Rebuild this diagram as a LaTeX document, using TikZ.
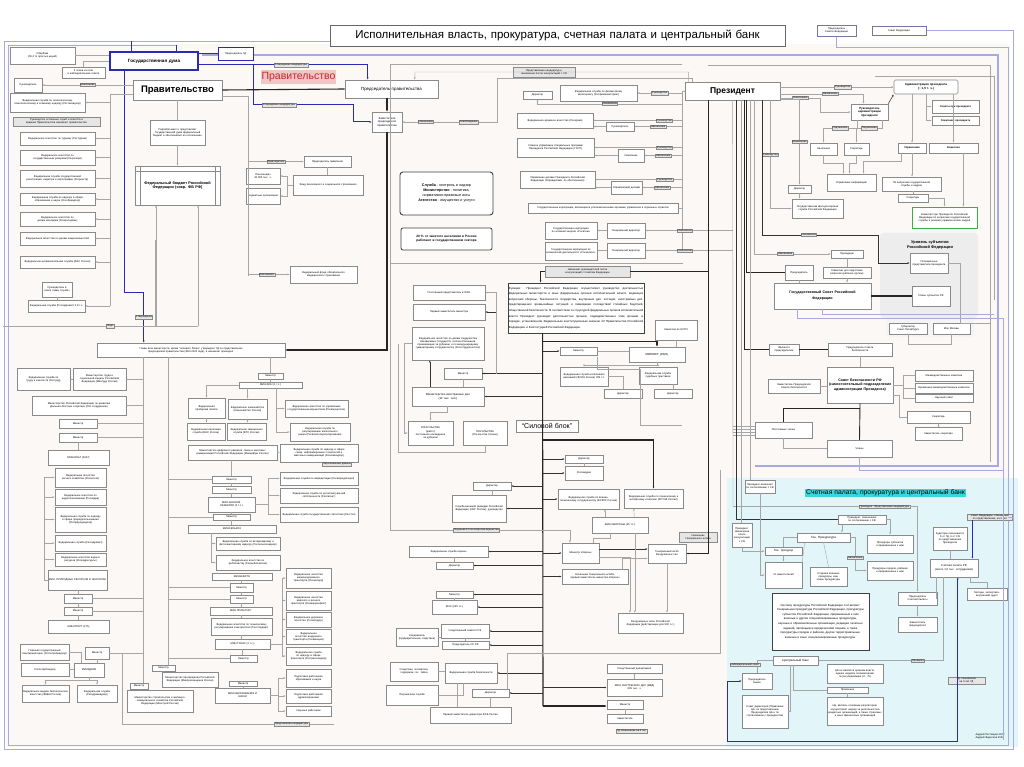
\documentclass[tikz,border=0pt]{standalone}
\usepackage{fontspec}
\setmainfont{Liberation Sans}
\usetikzlibrary{arrows.meta,calc}
\definecolor{boxgray}{HTML}{8A8A8A}
\definecolor{linegray}{HTML}{A6A6A6}
\definecolor{labfill}{HTML}{E6E6E6}
\definecolor{dumablue}{HTML}{2A2AB4}
\definecolor{lavender}{HTML}{A9A9E2}
\definecolor{bgfill}{HTML}{FBF8F5}
\definecolor{cyanfill}{HTML}{E2F6FA}
\definecolor{cyanhl}{HTML}{3AD6DA}
\definecolor{pinkfill}{HTML}{F3C6C6}
\definecolor{redtext}{HTML}{C0282C}
\definecolor{greenb}{HTML}{3CAF3C}
\definecolor{regfill}{HTML}{EDEDED}
\newcommand\tf{\fontsize{2.6}{3.1}\selectfont}
\newcommand\bx[7][]{%
  \pgfmathsetmacro\bxw{#5-#3}%
  \pgfmathsetmacro\bxh{#6-#4}%
  \pgfmathsetmacro\bxt{#5-#3-1.6}%
  \pgfmathsetmacro\bxcx{(#3+#5)/2}%
  \pgfmathsetmacro\bxcy{(#4+#6)/2}%
  \node[bx,minimum width=\bxw pt,minimum height=\bxh pt,text width=\bxt pt,#1] (#2) at (\bxcx,\bxcy) {#7};}
\begin{document}
\begin{tikzpicture}[x=1pt,y=-1pt,
  bx/.style={draw=boxgray,fill=white,line width=0.45pt,inner sep=0.4pt,align=center,font=\tf},
  lab/.style={draw=boxgray,fill=labfill,inner sep=0.5pt,font=\tf,line width=0.3pt},
  ln/.style={draw=linegray,line width=0.4pt},
  sp/.style={draw=black!80,line width=0.55pt},
  thk/.style={draw=black!85,line width=1.1pt},
  blu/.style={draw=dumablue,line width=1pt},
  lav/.style={draw=lavender,line width=1pt},
  arr/.style={-{Latex[length=2.2pt,width=1.8pt]}}]
\useasboundingbox (0,0) rectangle (1024,767);
\fill[white] (0,0) rectangle (1024,767);
\fill[bgfill] (6,44) rectangle (1010,747);
\fill[cyanfill] (727,478) rectangle (1018,747);
\fill[regfill,rounded corners=4pt] (880,233) rectangle (978,318);
\fill[regfill!60,rounded corners=3pt] (886,319) rectangle (974,337);

% frames
\draw[lav] (872,30.5) -| (1013,749) -| (4,42) -- (330,42);
\draw[lav] (836.5,36) |- (1008,48) -- (1008,745) -- (8,745) -- (8,46) -- (177,46);
\draw[lav,line width=1.6pt] (202,55) -| (998,466) -- (755,466);
\draw[ln] (708,65) -| (990,462);
\draw[ln] (875,76) -| (994,300);

% title
\bx[font=\fontsize{11.5}{13}\selectfont,draw=black!60,line width=0.6pt]{title}{330}{25}{785}{46}{Исполнительная власть, прокуратура, счетная палата и центральный банк}

% ---------- left top
\bx{sber}{10}{47}{75}{64}{Сбербанк\\(50,3 \% простых акций)}
\bx{sbns}{62}{67}{105}{78}{4 члена из пяти\\в наблюдательном совете}
\bx[draw=dumablue,line width=1.4pt,font=\fontsize{4.6}{5}\selectfont\bfseries]{gd}{110}{52}{198}{70}{Государственная дума}
\bx[draw=dumablue,line width=0.7pt]{predgd}{218}{47}{253}{60}{Председатель ГД}
\bx{ruka}{14}{78}{42}{92}{Руководитель}
\bx{rostehn}{10}{93}{85}{112}{Федеральная служба по экологическому, технологическому и атомному надзору (Ростехнадзор)}
\bx[fill=labfill]{rukost}{13}{117}{100}{126}{Руководство остальных служб и агентств в ведении Правительства назначает правительство}
\bx{rostur}{20}{132}{95}{145}{Федеральное агентство по туризму (Ростуризм)}
\bx{rosrez}{20}{150}{95}{165}{Федеральное агентство по государственным резервам (Росрезерв)}
\bx{rosreestr}{20}{170}{95}{187}{Федеральная служба государственной регистрации, кадастра и картографии (Росреестр)}
\bx{rosobr}{20}{193}{95}{205}{Федеральная служба по надзору в сфере образования и науки (Рособрнадзор)}
\bx{rosmol}{20}{212}{95}{226}{Федеральное агентство по делам молодёжи (Росмолодёжь)}
\bx{rosnac}{20}{232}{95}{245}{Федеральное агентство по делам национальностей}
\bx{fas}{20}{256}{95}{268}{Федеральная антимонопольная служба (ФАС России)}
\bx{rukfm}{42}{282}{72}{297}{Руководитель в ранге главы службы}
\bx{rosfm}{28}{300}{85}{312}{Федеральная служба (Росгидромет) 2,8 т.с.}

% ---------- government
\bx[font=\fontsize{9.5}{11}\selectfont\bfseries,line width=0.7pt]{prav}{133}{80}{222}{100}{Правительство}
\node[fill=pinkfill,text=redtext,font=\fontsize{10.5}{12}\selectfont,inner sep=1pt,minimum width=73pt,minimum height=14pt] (pravlab) at (298.5,77) {Правительство};
\bx[font=\fontsize{4.4}{5}\selectfont,line width=0.6pt]{predpr}{345}{80}{438}{98}{Председатель правительства}
\bx[font=\fontsize{2.8}{3.5}\selectfont]{zampr}{372}{112}{402}{132}{Заместители председателя правительства}
\bx{razr}{150}{120}{205}{145}{Разрабатывает и представляет Государственной думе федеральный бюджет и обеспечивает его исполнение}
\bx[font=\fontsize{3.8}{4.6}\selectfont\bfseries]{fb}{135}{166}{220}{205}{Федеральный бюджет Российской Федерации (сокр. ФБ РФ)}
\draw[boxgray,line width=0.4pt] (140,166) -- (140,205) (215,166) -- (215,205) (135,171) -- (220,171);
\bx{predpravl}{304}{156}{351}{167}{Председатель правления}
\bx{pens}{246}{168}{280}{184}{Пенсионеры\\43 000 тыс. ч.}
\bx{byud}{246}{188}{280}{204}{Бюджетные организации}
\bx{fps}{293}{175}{363}{195}{Фонд пенсионного и социального страхования}
\bx{fomc}{290}{266}{357}{283}{Федеральный фонд обязательного медицинского страхования}

% ---------- center
\node[draw=black!75,line width=0.9pt,rounded corners=3pt,fill=white,minimum width=93pt,minimum height=43pt,align=center,font=\fontsize{3.7}{5}\selectfont] (sluzh) at (446.5,193.5) {\textbf{Служба} - контроль и надзор\\\textbf{Министерство} - политика,\\нормативно-правовые акты\\\textbf{Агентство} - имущество и услуги};
\bx[draw=black!75,line width=0.8pt,rounded corners=2pt,font=\fontsize{3.2}{4.4}\selectfont\bfseries]{pct}{401}{228}{492}{250}{20 \% от занятого населения в России работают в государственном секторе}

\bx[fill=labfill]{predkand}{513}{67}{575}{77}{Представление кандидатур и\\назначение после консультаций с СФ}
\bx{dira}{523}{91}{552}{99}{Директор}
\bx{rfm}{560}{85}{637}{101}{Федеральная служба по финансовому мониторингу (Росфинмониторинг)}
\bx{rosarh}{517}{113}{593}{128}{Федеральное архивное агентство (Росархив)}
\bx{rukb}{606}{122}{634}{131}{Руководитель}
\bx{gusp}{517}{138}{594}{157}{Главное управление специальных программ Президента Российской Федерации (ГУСП)}
\bx{nacha}{618}{149}{644}{162}{Начальник}
\bx{upd}{520}{171}{595}{188}{Управление делами Президента Российской Федерации (Управделами, по обеспечению)}
\bx{updb}{611}{181}{642}{194}{Управляющий делами}
\bx{gk}{528}{203}{678}{213}{Государственные корпорации, являющиеся уполномоченными органами управления в отдельных отраслях}
\bx{rosat}{545}{222}{597}{239}{Государственная корпорация по атомной энергии «Росатом»}
\bx{gda}{607}{223}{645}{238}{Генеральный директор}
\bx{roskos}{545}{242}{597}{260}{Государственная корпорация по космической деятельности «Роскосмос»}
\bx{gdb}{607}{243}{645}{258}{Генеральный директор}

\bx[font=\fontsize{8.5}{10}\selectfont\bfseries,line width=0.7pt]{pres}{685}{82}{780}{100}{Президент}

% ---------- right top
\bx[draw=lavender!70!black,line width=0.6pt]{predsf}{817}{25}{856}{36}{Председатель\\Совета Федерации}
\bx[draw=lavender!70!black,line width=0.6pt]{sf}{872}{26}{926}{35}{Совет Федерации}
\bx[font=\fontsize{3}{3.6}\selectfont\bfseries,rounded corners=1.5pt,line width=0.6pt]{adm}{894}{80}{958}{94}{Администрация президента\\(\textasciitilde{} 1,5 т. ч.)}
\bx[font=\fontsize{2.9}{3.5}\selectfont\bfseries,line width=0.6pt]{rukadm}{851}{104}{888}{120}{Руководитель администрации президента}
\bx[font=\tf\bfseries]{sovety}{932}{100}{979}{113}{Советы при президенте}
\bx[font=\tf\bfseries]{sovetn}{932}{116}{979}{125}{Советники президента}
\bx{nachb}{810}{143}{837}{155}{Начальник}
\bx{sekra}{844}{143}{869}{155}{Секретарь}
\bx[font=\tf\bfseries]{upravl}{898}{143}{926}{153}{Управления}
\bx[font=\tf\bfseries]{komiss}{929}{143}{978}{153}{Комиссии}
\bx{upinf}{827}{174}{876}{191}{Управление информации}
\bx{gskadr}{882}{177}{941}{191}{По вопросам государственной службы и кадров}
\bx{sekrb}{898}{194}{928}{202}{Секретарь}
\bx[draw=greenb,line width=0.9pt]{greenk}{912}{207}{977}{228}{Комиссия при Президенте Российской Федерации по вопросам государственной службы и резерва управленческих кадров}
\bx{dirfel}{788}{185}{811}{193}{Директор}
\bx{gfs}{792}{199}{843}{218}{Государственная фельдъегерская служба Российской Федерации}

\node[font=\fontsize{3.9}{4.6}\selectfont\bfseries,align=center] (urov) at (930,245) {Уровень субъектов\\Российской Федерации};
\bx{polnom}{910}{253}{948}{273}{Полномочные представители президента}
\bx[line width=0.7pt]{glavy}{912}{286}{950}{306}{Главы субъектов РФ}
\bx{prezid}{831}{250}{863}{258}{Президиум}
\bx{predgs}{785}{265}{813}{280}{Председатель}
\bx{komgs}{823}{267}{871}{278}{Комиссии для подготовки вопросов (рабочие группы)}
\bx[font=\fontsize{3.6}{6}\selectfont\bfseries,line width=0.6pt]{gossov}{774}{283}{871}{309}{Государственный Совет Российской\\Федерации}
\bx{sobr}{889}{323}{927}{334}{Губернатор\\Санкт-Петербурга}
\bx{mer}{933}{323}{970}{334}{Мэр Москвы}

\bx{yavl}{769}{344}{799}{355}{Является\\председателем}
\bx{predsb}{828}{343}{892}{356}{Председатель Совета\\безопасности}
\bx[font=\fontsize{3.6}{4.4}\selectfont\bfseries,line width=0.7pt]{sovbez}{827}{367}{893}{403}{Совет Безопасности РФ (самостоятельный подразделение администрации Президента)}
\bx{zamsb}{768}{379}{820}{393}{Заместитель Председателя Совета безопасности}
\bx{mezha}{915}{370}{973}{381}{Межведомственные комиссии}
\bx{mezhb}{915}{383}{973}{393}{Временные межведомственные комиссии}
\bx{nauchs}{915}{394}{973}{402}{Научный совет}
\bx{sekrsb}{907}{411}{970}{423}{Секретарь}
\bx{zamsek}{915}{427}{962}{440}{Заместитель секретаря}
\bx{postch}{755}{422}{812}{438}{Постоянные члены}
\bx{chleny}{827}{440}{892}{457}{Члены}

% ---------- center lower
\bx{oon}{413}{285}{485}{300}{Постоянный представитель в ООН}
\bx{perv}{413}{304}{485}{320}{Первый заместитель министра}
\bx{rsotr}{412}{327}{484}{360}{Федеральное агентство по делам Содружества Независимых Государств, соотечественников, проживающих за рубежом, и по международному гуманитарному сотрудничеству (Россотрудничество)}
\bx{minmid}{444}{368}{482}{379}{Министр}
\bx[font=\fontsize{2.9}{3.6}\selectfont]{mid}{412}{387}{484}{406}{Министерство иностранных дел\\(11 тыс. чел.)}
\bx{kons}{408}{421}{453}{445}{КОНСУЛЬСТВА\\(работ.)\\постоянное нахождение за рубежом}
\bx{posol}{463}{421}{507}{445}{ПОСОЛЬСТВА\\(Посольства страны)}
\bx[font=\fontsize{7}{8}\selectfont]{silb}{516}{420}{578}{432}{“Силовой блок”}
\bx[draw=black!75,line width=0.9pt,align=justify,font=\fontsize{2.9}{5.6}\selectfont]{funk}{508}{283}{644}{333}{Функции: Президент Российской Федерации осуществляет руководство деятельностью федеральных министерств и иных федеральных органов исполнительной власти, ведающих вопросами обороны, безопасности государства, внутренних дел, юстиции, иностранных дел, предотвращения чрезвычайных ситуаций и ликвидации последствий стихийных бедствий, общественной безопасности. В соответствии со структурой федеральных органов исполнительной власти Президент руководит деятельностью органов, подведомственных этим органам, в порядке, установленном Федеральным конституционным законом «О Правительстве Российской Федерации» и Конституцией Российской Федерации.}
\bx[fill=labfill]{naznl}{545}{266}{630}{277}{Назначает руководителей после\\консультаций с Советом Федерации}
\bx{minjm}{560}{347}{597}{355}{Министр}
\bx[font=\fontsize{2.9}{3.5}\selectfont]{minjust}{629}{347}{685}{362}{МИНЮСТ (2022)}
\bx{espch}{655}{320}{697}{340}{Комиссия по ЕСПЧ}
\bx{fsin}{560}{367}{608}{386}{Федеральная служба исполнения наказаний (ФСИН России) 300 т.с.}
\bx{fssp}{639}{367}{677}{384}{Федеральная служба судебных приставов}
\bx{dirfsin}{604}{389}{642}{398}{Директор}
\bx{dirfssp}{654}{389}{692}{398}{Директор}
\bx{dirrg}{565}{455}{603}{463}{Директор}
\bx{rosgv}{565}{466}{603}{480}{Росгвардия}
\bx{dirsvr}{473}{482}{511}{490}{Директор}
\bx{svr}{452}{495}{506}{522}{Служба внешней разведки Российской Федерации (СВР России), руководство}
\bx{fsvts}{558}{489}{619}{509}{Федеральная служба по военно-техническому сотрудничеству (ФСВТС России)}
\bx{fstek}{624}{489}{683}{508}{Федеральная служба по техническому и экспортному контролю (ФСТЭК России)}
\bx{minobor}{592}{517}{648}{533}{МИН.ОБОРОНЫ (25 т.с.)}
\bx{minob}{562}{543}{599}{563}{Министр обороны}
\bx{gsh}{648}{544}{686}{563}{Генеральный штаб Вооружённых сил}
\bx[fill=labfill]{nglab}{679}{532}{717}{542}{Начальник\\Генерального штаба}
\bx{fso}{409}{546}{488}{557}{Федеральная служба охраны}
\bx{dirfso}{436}{562}{473}{569}{Директор}
\bx{nachgsh}{562}{569}{628}{584}{Начальник Генерального штаба, первый заместитель министра обороны}
\bx{vs}{618}{613}{683}{633}{Вооружённые силы Российской Федерации (действующие для 900 т.с.)}
\bx{mchsm}{436}{591}{473}{598}{Министр}
\bx{mchs}{432}{600}{477}{614}{МЧС (235 т.с.)}
\bx{sleda}{396}{628}{438}{646}{Следователь (предварительное следствие)}
\bx{sk}{441}{624}{489}{638}{Следственный комитет РФ}
\bx{predsk}{442}{641}{489}{649}{Председатель СК РФ}
\bx{sledb}{390}{662}{438}{681}{Следствие, экспертиза, терроризм, гос. тайна}
\bx{fsb}{445}{663}{497}{683}{Федеральная служба безопасности}
\bx{pogr}{386}{685}{438}{705}{Пограничная служба}
\bx{dirfsb}{472}{689}{509}{697}{Директор}
\bx{perzam}{430}{707}{511}{723}{Первый заместитель директора ФСБ России}
\bx{sleddep}{607}{664}{662}{673}{Следственный департамент}
\bx{mvd}{607}{679}{662}{696}{МИН. ВНУТРЕННИХ ДЕЛ (МВД)\\905 тыс. ч.}
\bx{mvdm}{607}{700}{643}{709}{Министр}
\bx{mvdz}{607}{714}{643}{723}{Заместитель}
\node[lab] (gdlab) at (631.5,731) {ГД. Назначение на 5 лет};

% ---------- left middle / bottom
\bx{glava}{97}{343}{285}{357}{Главы всех министерств, кроме “силового блока”, утверждает ГД по представлению\\председателя правительства (ФКЗ 2020 года), а назначает президент}
\bx{rostrud}{17}{368}{70}{390}{Федеральная служба по труду и занятости (Роструд)}
\bx{mintrud}{73}{368}{126}{390}{Министерство труда и социальной защиты Российской Федерации (Минтруд России)}
\bx{mindv}{32}{396}{126}{415}{Министерство Российской Федерации по развитию Дальнего Востока и Арктики (200 сотрудников)}
\bx{ma}{59}{419}{97}{428}{Министр}
\bx{mb}{59}{433}{97}{442}{Министр}
\bx{minkult}{48}{450}{109}{465}{МИНКУЛЬТ (2007)}
\bx{rosles}{55}{468}{106}{487}{Федеральное агентство лесного хозяйства (Рослесхоз)}
\bx{rosnedra}{55}{489}{106}{505}{Федеральное агентство по недропользованию (Роснедра)}
\bx{rospn}{55}{507}{106}{532}{Федеральная служба по надзору в сфере природопользования (Росприроднадзор)}
\bx{rosgm}{55}{535}{106}{551}{Федеральная служба (Росгидромет)}
\bx{rosvr}{55}{553}{106}{566}{Федеральное агентство водных ресурсов (Росводресурсы)}
\bx{minpr}{48}{570}{107}{590}{МИН. ПРИРОДНЫХ РЕСУРСОВ И ЭКОЛОГИИ}
\bx{mc}{64}{594}{92}{603}{Министр}
\bx{md}{64}{607}{92}{615}{Министр}
\bx{minsport}{48}{620}{109}{633}{МИНСПОРТ (275)}
\bx{sud}{20}{644}{69}{660}{Главный государственный санитарный врач (Роспотребнадзор)}
\bx{me}{85}{647}{109}{659}{Министр}
\bx{predgr}{21}{663}{69}{676}{Роспотребнадзор}
\bx{minzdrav}{74}{663}{104}{677}{МИНЗДРАВ}
\bx{fmba}{22}{685}{69}{702}{Федеральное медико-биологическое агентство (ФМБА России)}
\bx{rzn}{77}{685}{117}{702}{Федеральная служба (Росздравнадзор)}

\bx{mfm}{258}{373}{283}{379}{Министр}
\bx{minfin}{239}{382}{302}{388}{МИН.ФИН (1 т.с.)}
\bx{probir}{188}{398}{225}{418}{Федеральная пробирная палата}
\bx{kazn}{228}{399}{267}{419}{Федеральное казначейство (Казначейство России)}
\bx{rosim}{285}{400}{348}{417}{Федеральное агентство по управлению государственным имуществом (Росимущество)}
\bx{fns}{187}{423}{225}{440}{Федеральная налоговая служба (ФНС России)}
\bx{fts}{227}{423}{266}{440}{Федеральная таможенная служба (ФТС России)}
\bx{rosalk}{290}{423}{350}{441}{Федеральная служба по регулированию алкогольного рынка (Росалкогольрегулирование)}
\bx{mincif}{188}{445}{277}{460}{Министерство цифрового развития, связи и массовых коммуникаций Российской Федерации (Минцифры России)}
\bx{rkn}{280}{444}{358}{462}{Федеральная служба по надзору в сфере связи, информационных технологий и массовых коммуникаций (Роскомнадзор)}
\node[lab] (pdlab) at (337,464) {Персональные данные};
\bx{mf}{212}{476}{251}{483}{Министр}
\bx{mg}{212}{486}{251}{493}{Министр}
\bx{minek}{208}{497}{255}{512}{МИН.ЭКОНОМ.\\РАЗВИТИЯ (2 т.с.)}
\bx{mh}{213}{514}{250}{520}{Министр}
\bx{minsh}{188}{525}{276}{533}{МИНСЕЛЬХОЗ}
\bx{rosakk}{280}{472}{358}{485}{Федеральная служба по аккредитации (Росаккредитация)}
\bx{rospat}{280}{488}{358}{503}{Федеральная служба по интеллектуальной собственности (Роспатент)}
\bx{rosstat}{280}{507}{358}{522}{Федеральная служба государственной статистики (Росстат)}
\bx{rsn}{216}{537}{280}{550}{Федеральная служба по ветеринарному и фитосанитарному надзору (Россельхознадзор)}
\bx{rosryb}{216}{555}{280}{570}{Федеральное агентство по рыболовству (Росрыболовство)}
\bx{minen}{212}{573}{272}{580}{МИНЭНЕРГО}
\bx{mi}{230}{583}{253}{592}{Министр}
\bx{mj}{230}{595}{253}{603}{Министр}
\bx{minprom}{210}{607}{272}{615}{МИН.ПРОМ.ТОРГ}
\bx{rosst}{211}{618}{272}{635}{Федеральное агентство по техническому регулированию и метрологии (Росстандарт)}
\bx{mintrans}{215}{639}{270}{649}{МИН.ТРАНС (2 т.с.)}
\bx{mk}{230}{655}{257}{662}{Министр}
\bx{rzd}{286}{568}{331}{588}{Федеральное агентство железнодорожного транспорта (Росжелдор)}
\bx{rmrf}{286}{591}{331}{610}{Федеральное агентство морского и речного транспорта (Росморречфлот)}
\bx{rad}{286}{612}{331}{627}{Федеральное дорожное агентство (Росавтодор)}
\bx{rav}{286}{629}{331}{644}{Федеральное агентство воздушного транспорта (Росавиация)}
\bx{rtn}{286}{647}{331}{665}{Федеральная служба по надзору в сфере транспорта (Ространснадзор)}
\bx{ml}{152}{665}{175}{671}{Министр}
\bx{minpros}{162}{672}{218}{687}{Министерство просвещения Российской Федерации (Минпросвещения России)}
\bx{mm}{130}{683}{148}{689}{Министр}
\bx{minstroy}{127}{690}{193}{712}{Министерство строительства и жилищно-коммунального хозяйства Российской Федерации (Минстрой России)}
\bx{mn}{229}{681}{257}{686}{Министр}
\bx{minobr}{215}{688}{270}{703}{МИН.ОБРАЗОВАНИЯ И\\НАУКИ}
\bx{podga}{286}{669}{331}{687}{Подготовка работников образования и науки}
\bx{podgb}{286}{689}{331}{703}{Подготовка работников здравоохранения}
\bx{nauchr}{286}{706}{331}{716}{Научные работники}

% ---------- cyan region
\node[fill=cyanhl,font=\fontsize{6.8}{8}\selectfont,inner sep=1pt] (cyanlab) at (885.5,493) {Счетная палата, прокуратура и центральный банк};
\bx{prsogl}{745}{480}{775}{493}{Президент назначает по согласованию с СФ}
\node[lab] (prlab) at (884.5,506.5) {Президент. Представление кандидатуры};
\bx{predvl}{838}{515}{886}{524}{Президент. Назначение по согласованию с СФ}
\bx{prkon}{732}{523}{752}{547}{Президент. Назначение после консультации с СФ}
\bx[font=\fontsize{3}{3.6}\selectfont]{genpr}{797}{533}{850}{542}{Ген. Прокуратура}
\bx[font=\fontsize{2.9}{3.5}\selectfont]{genprok}{765}{547}{802}{555}{Ген. прокурор}
\bx{prsubj}{867}{535}{913}{553}{Прокуроры субъектов и приравненные к ним}
\bx{zam12}{765}{562}{802}{588}{12 заместителей}
\bx{stvoen}{810}{567}{847}{586}{Старшие военные прокуроры, зам. главы прокуратуры}
\bx{prgor}{867}{561}{913}{580}{Прокуроры городов, районов и приравненные к ним}
\bx[draw=black!75,line width=0.9pt,font=\fontsize{2.9}{4.6}\selectfont]{prsys}{772}{593}{869}{650}{Систему прокуратуры Российской Федерации составляют: Генеральная прокуратура Российской Федерации, прокуратуры субъектов Российской Федерации, приравненные к ним военные и другие специализированные прокуратуры, научные и образовательные организации, редакции печатных изданий, являющиеся юридическими лицами, а также прокуратуры городов и районов, другие территориальные, военные и иные специализированные прокуратуры.}
\bx{predschp}{898}{592}{937}{605}{Председатель\\Счетной палаты}
\bx{zamschp}{898}{617}{937}{632}{Заместитель\\председателя}
\bx[font=\fontsize{2.8}{3.4}\selectfont]{schp}{930}{559}{978}{577}{Счётная палата РФ\\(около 1,5 тыс. сотрудников)}
\bx{audit}{933}{527}{967}{550}{Аудиторы назначаются 6 от ГД, 6 от СФ по представлению Президента}
\node[lab,text width=44pt,align=center] (sflab) at (990,517) {Совет Федерации. Назначение\\по представлению, на 6 лет};
\bx{metod}{967}{588}{1007}{600}{Методы, экспертиза, внутренний аудит}
\bx[font=\fontsize{3}{3.6}\selectfont]{cb}{773}{656}{818}{665}{Центральный банк}
\bx{predbank}{742}{673}{772}{689}{Председатель\\Банка}
\bx{cbdesc}{827}{664}{883}{683}{ЦБ не является органом власти, однако наделён полномочиями по регулированию (ст. 75)}
\bx{pravl}{827}{687}{868}{693}{Правление}
\bx{sovdir}{742}{695}{788}{728}{Совет директоров (Правление ЦБ, по представлению Председателя ЦБ и по согласованию с президентом)}
\bx{cbdesc2}{827}{697}{883}{725}{ЦБ, являясь основным регулятором, осуществляет надзор за деятельностью кредитных организаций, а также страховых и иных финансовых организаций}
\node[lab,text width=36pt,align=center] (gdcb) at (966.5,680.5) {ГД. Назначение\\на 5 лет ГД};
\node[font=\fontsize{2.6}{3.2}\selectfont,align=left] (sign) at (990,736) {Андрей Ростовцев 2022\\Андрей Федосеев 2022};

% ================= connectors
% Duma
\draw[blu] (gd.north east |- predgd.west) -- (predgd.west);
\coordinate (bj) at (253,65);
\draw[blu,arr] ([yshift=-4pt]gd.east) -| ([xshift=23pt]predpr.north west);
\node[lab] at (291,65) {Утверждение кандидатуры};
\draw[blu,arr] (bj) |- (353,105) |- (zampr.west);
\node[lab] at (279,105) {Утверждение кандидатуры};
\draw[blu,arr] ([xshift=15pt]gd.south west) -- ++(0,222) -| ([xshift=47pt]glava.north west);
\node[lab] at (144,317) {Утверждение};
\draw[blu] ([xshift=22pt]gd.north west) -- ++(0,-10);
\draw[blu] ([xshift=67pt]gd.north west) -- ++(0,-6);
\draw[ln] (gd.west) -| (sbns.north);
\draw[ln] (sber.east) -- (sber.east -| gd.west);

% Government
\draw[thk] (prav.east) -- (predpr.west);
\draw[thk,arr] (predpr.south -| zampr.north) -- (zampr.north);
\draw[thk,arr] (zampr.south) |- (glava.east);
\coordinate (lbus) at (110,306);
\draw[ln] ([yshift=-4pt]prav.west) -| (lbus);
\foreach \n in {rostehn,rostur,rosrez,rosreestr,rosobr,rosmol,rosnac,fas,rosfm} \draw[ln,arr] (lbus |- \n.east) -- (\n.east);
\draw[ln] (rukfm.south) -- (rukfm.south |- rosfm.north);
\draw[ln,arr] (prav.west |- ruka.east) -- node[lab]{Назначение} (ruka.east);
\draw[ln] (prav.south -| razr.north) -- (razr.north);
\draw[ln,arr] (razr.south) -- (fb.north);
\coordinate (fbl) at (156,326); \coordinate (fbr) at (198,326);
\draw[ln,arr] (fbl) -- (fbl |- fb.south);
\draw[ln,arr] (fbr) -- (fbr |- fb.south);
\coordinate (lfr) at (3,326);
\draw[ln] (lfr) -- node[lab,pos=0.55]{Подп.} (fbr);
\draw[ln,line width=0.8pt] (155,240) -- (155,326);
\coordinate (pv) at (248,276);
\draw[ln] ([yshift=-6pt]prav.east) -| (pv);
\draw[ln,arr] (pv |- predpravl.west) -- node[lab]{Председатель} (predpravl.west);
\draw[ln,arr] (pv |- fomc.west) -- node[lab,pos=0.45]{Возглавляет} (fomc.west);
\draw[ln] (predpravl.south) -- (predpravl.south |- fps.north);
\draw[ln,arr] (fps.west) -- ++(-6,0) |- (pens.east);
\draw[ln,arr] (fps.west) -- ++(-6,0) |- (byud.east);

% President -> chairman / deputies
\draw[ln,arr] ([xshift=4pt]pres.north west) |- (415,72) -- ([xshift=70pt]predpr.north west);
\draw[ln,arr] ([xshift=8pt]pres.north west) |- (497,78) -- (497,122) -- node[lab,pos=0.3]{Освобождение} node[lab,pos=0.75]{Назначение} (zampr.east);
\coordinate (cbus) at (682,250);
\coordinate (frtl) at (390,64);
\coordinate (podc) at (390,530);
\draw[ln] (cbus |- frtl) -- (frtl) -- (podc);
\draw[ln] (390,263) -- (683,263);
\draw[ln] (pres.west) -- (cbus |- pres.west) -- (cbus);
\draw[ln,arr] (cbus |- rfm.east) -- node[lab]{Руководство} (rfm.east);
\draw[ln,arr] (cbus |- 0,104) -| node[lab,pos=0.25]{Назначение} (dira.south);
\draw[ln,arr] (cbus |- rosarh.east) -- node[lab,pos=0.2]{Руководство} (rosarh.east);
\draw[ln,arr] (cbus |- rukb.east) -- node[lab,pos=0.5]{Назначение} (rukb.east);
\draw[ln,arr] (rukb.west) -- (rukb.west -| rosarh.east);
\draw[ln,arr] (cbus |- gusp.east) -- node[lab,pos=0.2]{Руководство} (gusp.east);
\draw[ln,arr] (cbus |- nacha.east) -- node[lab,pos=0.5]{Назначение} (nacha.east);
\draw[ln,arr] (nacha.west) -- (nacha.west -| gusp.east);
\draw[ln,arr] (cbus |- upd.east) -- node[lab,pos=0.2]{Руководство} (upd.east);
\draw[ln,arr] (cbus |- updb.east) -- node[lab,pos=0.5]{Назначение} (updb.east);
\draw[ln,arr] (updb.west) -- (updb.west -| upd.east);
\draw[ln] (gk.east) -- (cbus |- gk.east);
\coordinate (pbus) at (733,506.5);
\draw[ln] ([xshift=48pt]pres.south west) -- (pbus);
\draw[ln,arr] (pbus |- gda.east) -- node[lab,pos=0.55]{Назначение} (gda.east);
\draw[ln,arr] (pbus |- gdb.east) -- node[lab,pos=0.55]{Назначение} (gdb.east);
\draw[ln,arr] (gda.west) -- (rosat.east |- gda.west);
\draw[ln,arr] (gdb.west) -- (roskos.east |- gdb.west);

% power block
\draw[thk] ([xshift=24pt]pres.south west) |- (naznl.east);
\draw[thk,arr] (naznl.west) -| ([xshift=33pt]funk.north west);
\draw[thk,arr] ([xshift=24pt]pres.south west) |- (gsh.east);
\coordinate (spb) at (543,706);
\draw[thk] ([xshift=35pt]funk.south west) -- (spb);
\foreach \n in {minmid,mid,dirsvr,svr,fso,dirfso,mchsm,mchs,sk,predsk,fsb,dirfsb} \draw[sp,arr] (spb |- \n.east) -- (\n.east);
\foreach \n in {minjm,dirrg,rosgv,fsvts,minob,nachgsh,mvd} \draw[sp,arr] (spb |- \n.west) -- (\n.west);
\draw[thk,arr] (spb) -- (spb -| mvdm.west);
\draw[thk,arr] ([xshift=35pt]funk.south west) ++(0,8) -| (minjust.north);
\coordinate (sp440) at (543,440);
\draw[thk,arr] (sp440) -| (fstek.north);
\draw[ln] ([yshift=-2pt]minjm.south east) -- ++(0,12) -| (640,425) -- (cbus |- 0,425);

\draw[ln] (minmid.south) -- (minmid.south |- mid.north);
\draw[sp,arr] (minmid.east) -- ++(14,0) |- (perv.east);
\draw[ln,arr] (minmid.east) ++(14,0) |- (oon.east);
\draw[sp,arr] ([xshift=18pt]mid.north west) -- ([xshift=18pt]rsotr.south west);
\draw[ln,arr] ([xshift=35pt]mid.south west) -- ++(0,6) -| (kons.north);
\draw[ln,arr] (rsotr.west) -- ++(-8,0) |- (kons.west);
\draw[ln] (posol.south) -- ++(0,7) -| ([xshift=-14pt]rsotr.west);

\draw[ln] (minjm.east) -- (minjust.west |- minjm.east);
\draw[ln] (espch.south) -- (espch.south |- minjust.north);
\draw[ln,arr] (minjust.south) -- ++(0,3) -| (fsin.north);
\draw[ln,arr] (minjust.south) -- ++(0,3) -| (fssp.north);
\draw[ln] (fsin.east) -| (dirfsin.north);
\draw[ln] (dirfssp.north) -- (dirfssp.north |- fssp.south);
\draw[ln] (dirrg.south) -- (rosgv.north);

\draw[ln] (dirsvr.south) -- (dirsvr.south |- svr.north);
\draw[ln,arr] (podc) -| node[lab,pos=0.24]{Подчиняется по вопросам ведомства} ([xshift=8pt]minob.north west);
\draw[ln] ([xshift=-6pt]minob.north east) -- ++(0,-5) -| ([xshift=-10pt]minobor.south);
\draw[ln,arr] ([xshift=13pt]minobor.north west) -- ([xshift=13pt]minobor.north west |- fsvts.south);
\draw[ln,arr] ([xshift=-14pt]minobor.north east) -- ([xshift=10pt]fstek.south west);
\draw[sp,arr] ([yshift=4pt]minob.east) -- ([yshift=4pt]minob.east -| gsh.west);
\draw[ln,arr] ([yshift=-4pt]minob.east) -| ([xshift=12pt]vs.north west);
\draw[ln,arr] ([xshift=43pt]minobor.south west) -- ([xshift=43pt]minobor.south west |- vs.north);
\draw[ln,arr] ([xshift=-6pt]nachgsh.north east) |- ([yshift=-5pt]gsh.west);
\draw[ln,arr] (gsh.south) -- (gsh.south |- vs.north);
\draw[ln] (fso.south -| dirfso.north) -- (dirfso.north);
\draw[ln] (mchsm.south) -- (mchsm.south |- mchs.north);
\draw[ln] (sleda.east) -- (sk.west |- sleda.east);
\draw[ln] (sk.south) -- (sk.south |- predsk.north);
\draw[ln] (sledb.east) -- (fsb.west |- sledb.east);
\draw[ln] ([xshift=-8pt]fsb.south) |- (pogr.east);
\draw[ln] ([xshift=-14pt]fsb.south) -- ([xshift=-14pt]fsb.south |- perzam.north);
\draw[ln] (dirfsb.south) -- (dirfsb.south |- perzam.north);
\coordinate (frb) at (720,470);
\draw[ln] (frb) -- (720,653) -| ([xshift=-2pt]dirfsb.north east);
\draw[ln,arr] (mvd.north) -- (sleddep.south);
\draw[ln] (mvdm.south) -- (mvdz.north);

% president right side
\draw[ln,arr] (pres.east |- adm.west) -- node[lab,pos=0.55]{Руководство} (adm.west);
\draw[sp,arr] (rukadm.north east) -- (adm.south west);
\draw[ln,arr] ([yshift=-3pt]pres.east) -| node[lab,pos=0.3]{Назначение} ([xshift=-6pt]rukadm.north);
\draw[ln,arr] ([yshift=-7pt]pres.east) -- node[lab]{Назначение} ++(40,0) |- (rukadm.west);
\draw[ln,arr] ([xshift=6pt]rukadm.south west) -- ++(0,8) -| node[lab,pos=0.25]{Подчинение} (nachb.north);
\draw[ln,arr] ([xshift=-6pt]rukadm.south east) -- ++(0,8) -| node[lab,pos=0.25]{Подчинение} (sekra.north);
\draw[ln,arr] ([yshift=-8pt]pres.east) -| node[lab,pos=0.75]{Назначение} (dirfel.north);
\draw[ln,arr] ([xshift=-10pt]pres.south east) |- node[lab,pos=0.25]{Руководство} (gfs.west);
\draw[ln,arr] (dirfel.south) -- (dirfel.south |- gfs.north);
\draw[ln,arr] (nachb.south) -- ++(0,8) -| ([xshift=-8pt]upinf.north);
\draw[ln,arr] (sekra.south) -- ++(0,8) -| ([xshift=-2pt]upinf.north);
\draw[ln,arr] ([xshift=3pt]upravl.south west) -- ++(0,8) -| ([xshift=12pt]upinf.north);
\draw[ln,arr] (upravl.south) -- (upravl.south |- gskadr.north);
\draw[ln] (gskadr.south -| sekrb.north) -- (sekrb.north);
\draw[ln,arr] (sekrb.east) -| (greenk.north);
\draw[ln,arr] ([xshift=10pt]komiss.south) -- ([xshift=10pt]komiss.south |- greenk.north);
\draw[ln,arr] (adm.south -| upravl.north) -- (upravl.north);
\draw[ln,arr] (adm.south -| komiss.north) -- (komiss.north);
\draw[ln,arr] ([xshift=32pt]adm.south west) |- (sovety.west);
\draw[ln,arr] ([xshift=32pt]adm.south west) |- (sovetn.west);

% state council
\draw[thk] ([xshift=62pt]pres.south west) |- (predgs.west);
\draw[sp,arr] ([xshift=78pt]pres.south west) |- node[lab,pos=0.7]{Назначение} (878,235) |- (polnom.west);
\draw[ln,arr] ([xshift=70pt]pres.south west) |- node[lab,pos=0.7]{Назначение} (prezid.west);
\draw[ln] (prezid.south) -- (prezid.south |- komgs.north);
\draw[ln] (predgs.south) -- (predgs.south |- gossov.north);
\draw[ln,arr] (komgs.south) -- (komgs.south |- gossov.north);
\draw[thk] (gossov.east |- glavy.west) -- (glavy.west);
\draw[ln] (polnom.east) -- ++(12,0) |- (sobr.north -| 990,0);
\draw[ln] (sobr.south) -- ++(0,10) -| (mer.south);
\draw[lav] ([xshift=24pt]gossov.south west) |- (1003,318) -- (1003,740);
\draw[lav] ([xshift=49pt]gossov.south west) |- (994,314);

% security council
\draw[thk] ([xshift=60pt]pres.south west) |- (yavl.west);
\draw[thk] (yavl.east) -- (predsb.west);
\draw[ln] (predsb.south) -- (sovbez.north);
\draw[ln] (zamsb.east) -- (sovbez.west |- zamsb.east);
\foreach \n in {mezha,mezhb,nauchs} \draw[ln] (sovbez.east) -- ++(10,0) |- (\n.west);
\draw[ln] ([yshift=-10pt]sovbez.east) -- ++(6,0) |- (sekrsb.west);
\draw[ln,arr] (zamsek.north) -- (zamsek.north |- sekrsb.south);
\draw[thk,line width=0.9pt] (sovbez.south) -- (chleny.north);
\draw[thk,line width=0.9pt] (sovbez.south) ++(0,5) -| (postch.north);
\draw[ln] (chleny.west) -| (postch.south);
\foreach \dy in {-5,-2,1,4} \draw[ln] ([yshift=\dy pt]postch.west) -- ([yshift=\dy pt]postch.west -| pbus);
\draw[lav] (chleny.south) |- (1003,470);

% audit / prosecutor / bank
\draw[ln,arr] (pbus) -- (prlab.west);
\draw[ln,arr] (prlab.east) -| (predschp.north);
\draw[ln,arr] (predschp.south) -- (zamschp.north);
\draw[sp] ([xshift=52pt]pres.south west) |- (predvl.west);
\draw[ln,arr] (predvl.east) -| (prsubj.north);
\draw[ln,arr] ([xshift=4pt]predvl.south west) -- ([xshift=4pt]predvl.south west |- genpr.north);
\draw[ln] ([xshift=57pt]pres.south west) -- ([xshift=57pt]pres.south west |- prkon.north);
\draw[ln,arr] (prkon.south) |- (genprok.west);
\draw[ln] ([xshift=66pt]pres.south west) -- ([xshift=66pt]pres.south west |- prsogl.north);
\draw[ln,arr] (prsogl.south) |- (zam12.west);
\draw[ln,arr] (genprok.south) -- (genprok.south |- zam12.north);
\draw[ln] ([xshift=8pt]genpr.south west) -- (zam12.north east);
\draw[ln] (genpr.south) -- (stvoen.north);
\draw[ln] (genpr.west) -| (genprok.north);
\draw[ln,arr] (genpr.east) -- ++(5,0) |- node[lab,pos=0.3]{Назначение} (prgor.west);
\draw[ln] (audit.south) -- (audit.south |- schp.north);
\draw[blu,arr,line width=0.8pt] ([xshift=5pt]sflab.south west) -- ([xshift=5pt]sflab.south west |- schp.north);
\draw[lav] (sflab.east) -- (sflab.east -| 1008,0);
\draw[ln] ([xshift=-8pt]schp.south east) -- ++(0,5) -| (metod.north);
\draw[ln] ([xshift=6pt]schp.south west) |- (predschp.east);
\draw[ln,arr] ([xshift=13pt]schp.south west) |- node[lab,pos=0.6]{Проверка} (cb.east);
\coordinate (cyanbl) at (727,741);
\draw[blu,arr,line width=0.8pt] (cyanbl) -| ([xshift=28pt]schp.south west);
\draw[blu,arr,line width=0.8pt] (cyanbl) |- (predbank.west);
\draw[ln] (cb.west) -| (predbank.north);
\node[lab] (nablab) at (745,664.5) {Наблюдательный совет};
\draw[ln] ([xshift=-5pt]cb.south) |- (sovdir.east);
\draw[ln] ([xshift=-25pt]cb.south east) |- (pravl.west);
\draw[ln] (pravl.south) -- (pravl.south |- cbdesc2.north);

% left ministries
\coordinate (busa) at (143,683); \coordinate (busb) at (168,665);
\draw[ln] (glava.south -| busa) -- (busa);
\draw[ln] (glava.south -| busb) -- (busb);
\foreach \n in {mintrud,mindv,ma,mb,mc,md,me} \draw[ln] (\n.east) -- (\n.east -| busa);
\foreach \n in {mf,mh,mi,mj,mk} \draw[ln] (\n.west) -- (\n.west -| busb);
\draw[ln] (mm.south) -- (mm.south |- minstroy.north);
\draw[ln] (ml.south) -- (ml.south |- minpros.north);
\draw[ln] (mfm.north) -- (mfm.north |- glava.south);
\draw[ln] (mfm.south) -- (mfm.south |- minfin.north);
\draw[ln,arr] (minfin.west) -| (probir.north);
\draw[ln,arr] (minfin.south -| kazn.north) -- (kazn.north);
\draw[ln,arr] (probir.south) -- (probir.south |- fns.north);
\draw[ln,arr] (kazn.south) -- (kazn.south |- fts.north);
\coordinate (mfb) at (276,432);
\draw[ln] (minfin.south -| mfb) -- (mfb);
\draw[ln,arr] (mfb |- rosim.west) -- (rosim.west);
\draw[ln,arr] (mfb |- rosalk.west) -- (rosalk.west);
\draw[ln,arr] (mincif.east) -- (rkn.west |- mincif.east);
\draw[ln] (mincif.south -| mf.north) -- (mf.north);
\draw[ln] (mf.south) -- (mg.north);
\draw[ln] (mg.south) -- (mg.south |- minek.north);
\draw[ln] (minek.south) -- (minek.south |- mh.north);
\draw[ln] (mh.south) -- (mh.south |- minsh.north);
\coordinate (meb) at (268,515);
\draw[ln] (meb |- rosakk.west) -- (meb);
\draw[ln] (minek.east) -- (minek.east -| meb);
\foreach \n in {rosakk,rospat,rosstat} \draw[ln,arr] (meb |- \n.west) -- (\n.west);
\coordinate (shb) at (211,563);
\draw[ln] (minsh.south -| shb) -- (shb);
\draw[ln,arr] (shb |- rsn.west) -- (rsn.west);
\draw[ln,arr] (shb |- rosryb.west) -- (rosryb.west);
\draw[ln] (minen.south -| mi.north) -- (mi.north);
\draw[ln] (mi.south) -- (mj.north);
\draw[ln] (mj.south) -- (mj.south |- minprom.north);
\draw[ln] (minprom.south) -- (minprom.south |- rosst.north);
\draw[ln] (rosst.south) -- (rosst.south |- mintrans.north);
\draw[ln] (mintrans.south) -- (mintrans.south |- mk.north);
\coordinate (trb) at (282,656);
\draw[ln] (mintrans.east) -- (mintrans.east -| trb);
\draw[ln] (trb |- rzd.west) -- (trb);
\foreach \n in {rzd,rmrf,rad,rav,rtn} \draw[ln,arr] (trb |- \n.west) -- (\n.west);
\coordinate (obb) at (278,711);
\draw[ln] (minobr.east) -- (minobr.east -| obb);
\draw[ln] (obb |- podga.west) -- (obb);
\foreach \n in {podga,podgb,nauchr} \draw[ln,arr] (obb |- \n.west) -- (\n.west);
\draw[ln] (mn.south) -- (mn.south |- minobr.north);
\draw[ln] (me.south) -- (me.south |- minzdrav.north);
\draw[ln] (sud.east) -| ([xshift=-8pt]minzdrav.north);
\draw[ln] (predgr.east) -- (minzdrav.west |- predgr.east);
\draw[ln,arr] (minzdrav.south) -- ++(0,3) -| (fmba.north);
\draw[ln,arr] (minzdrav.south) -- ++(0,3) -| (rzn.north);
\coordinate (predk) at (122,724); \coordinate (predke) at (334,724);
\draw[ln] (me.east) -| (predk) -- node[lab,pos=0.8]{Предложение кандидатуры} (predke);
\coordinate (ecb) at (44,478);
\draw[ln] (minpr.west) -| (ecb);
\foreach \n in {rosles,rosnedra,rospn,rosgm,rosvr} \draw[ln,arr] (ecb |- \n.west) -- (\n.west);
\draw[ln] (minpr.south -| mc.north) -- (mc.north);
\draw[ln] (mc.south) -- (md.north);
\draw[ln] (md.south) -- (md.south |- minsport.north);
\draw[ln] (mb.south) -- (mb.south |- minkult.north);
\draw[ln] (mintrud.west) -- (rostrud.east);
\draw[ln] (ruka.south) -- (ruka.south |- rostehn.north);
\end{tikzpicture}
\end{document}
